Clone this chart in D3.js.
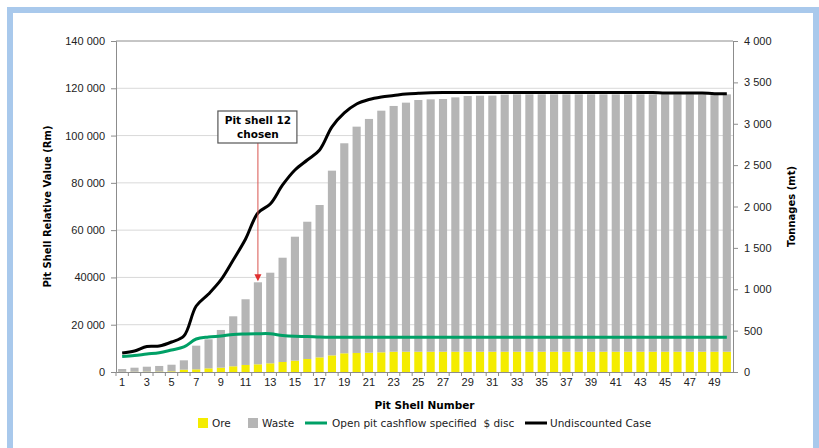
<!DOCTYPE html>
<html>
<head>
<meta charset="utf-8">
<script src="https://cdn.jsdelivr.net/npm/d3@7"></script>
<style>
  body { margin: 0; background: #fff; }
  svg { display: block; font-family: "DejaVu Sans", Verdana, sans-serif; }
</style>
</head>
<body>
<svg id="chart"></svg>
<script>
// pit shells 1..50
const shells = d3.range(1, 51);

// tonnages (mt), right axis
const ore = [2, 3, 4, 5, 8, 28, 32, 44, 52, 69, 85, 93, 105, 121, 137, 157, 177, 201, 226, 230,
  233, 238, 245, 245, 245, 245, 245, 245, 245, 245, 245, 245, 245, 245, 245, 245, 245, 245, 245, 245,
  245, 245, 245, 245, 245, 245, 245, 245, 245, 245];
const total = [36, 52, 64, 73, 88, 141, 318, 395, 508, 673, 879, 1084, 1200, 1381, 1635, 1816, 2018, 2433, 2764, 2965,
  3058, 3158, 3215, 3255, 3287, 3295, 3299, 3319, 3335, 3339, 3340, 3352, 3355, 3355, 3355, 3355, 3355, 3355, 3355, 3355,
  3355, 3355, 3355, 3355, 3355, 3355, 3355, 3355, 3355, 3355];
const waste = total.map((t, i) => t - ore[i]);

// relative value (Rm), left axis
const discounted = [6560, 6980, 7610, 8160, 9310, 10580, 13960, 14810, 15230, 15860, 16070, 16200, 16200, 15440, 15100, 15020, 14810, 14700, 14680, 14680,
  14680, 14680, 14680, 14680, 14680, 14680, 14680, 14680, 14680, 14680, 14680, 14680, 14680, 14680, 14680, 14680, 14680, 14680, 14680, 14680,
  14680, 14680, 14680, 14680, 14680, 14680, 14680, 14680, 14680, 14680];
const undiscounted = [8040, 8880, 10790, 11000, 12690, 15230, 27920, 32990, 38920, 47380, 56260, 67260, 71060, 79100, 85450, 89680, 93910, 103640, 109560, 113360,
  115270, 116330, 116960, 117590, 117890, 118100, 118230, 118230, 118230, 118230, 118230, 118230, 118230, 118230, 118230, 118230, 118230, 118230, 118230, 118230,
  118230, 118230, 118230, 118230, 118020, 118020, 118020, 118020, 117720, 117720];

const leftTicks = [0, 20000, 40000, 60000, 80000, 100000, 120000, 140000];
const leftTickLabels = ["0", "20 000", "40000", "60 000", "80 000", "100 000", "120 000", "140 000"];
const rightTicks = [0, 500, 1000, 1500, 2000, 2500, 3000, 3500, 4000];
const rightTickLabels = ["0", "500", "1 000", "1 500", "2 000", "2 500", "3 000", "3 500", "4 000"];

const chosenShell = 12;

const W = 819, H = 448;
const m = { top: 41, right: 86, bottom: 76, left: 116 };

const svg = d3.select("#chart").attr("width", W).attr("height", H);

// light blue frame
svg.append("rect").attr("x", 10).attr("y", 10).attr("width", W - 13).attr("height", H)
  .attr("fill", "none").attr("stroke", "#a9c9ec").attr("stroke-width", 6);

const x = d3.scaleBand().domain(shells).range([m.left, W - m.right]).paddingInner(0.34).paddingOuter(0.17);
const xb = d3.scaleBand().domain(shells).range([m.left, W - m.right]);
const yL = d3.scaleLinear().domain([0, 140000]).range([H - m.bottom, m.top]);
const yR = d3.scaleLinear().domain([0, 4000]).range([H - m.bottom, m.top]);

// gridlines
svg.append("g").selectAll("line").data(leftTicks.slice(1, -1)).join("line")
  .attr("x1", m.left).attr("x2", W - m.right)
  .attr("y1", d => yL(d)).attr("y2", d => yL(d))
  .attr("stroke", "#d9d9d9").attr("stroke-width", 1);

// stacked bars
const bars = svg.append("g");
bars.selectAll(".ore").data(shells).join("rect").attr("class", "ore")
  .attr("x", d => x(d)).attr("width", x.bandwidth())
  .attr("y", (d, i) => yR(ore[i])).attr("height", (d, i) => yR(0) - yR(ore[i]))
  .attr("fill", "#f4ec00");
bars.selectAll(".waste").data(shells).join("rect").attr("class", "waste")
  .attr("x", d => x(d)).attr("width", x.bandwidth())
  .attr("y", (d, i) => yR(total[i])).attr("height", (d, i) => yR(ore[i]) - yR(total[i]))
  .attr("fill", "#b5b5b5");

// lines
const line = d3.line()
  .x((d, i) => xb(shells[i]) + xb.bandwidth() / 2)
  .y(d => yL(d))
  .curve(d3.curveCatmullRom.alpha(0.5));

svg.append("path").datum(discounted).attr("d", line)
  .attr("fill", "none").attr("stroke", "#00a066").attr("stroke-width", 3);
svg.append("path").datum(undiscounted).attr("d", line)
  .attr("fill", "none").attr("stroke", "#000").attr("stroke-width", 3);

// plot frame
svg.append("line").attr("x1", m.left).attr("x2", W - m.right).attr("y1", m.top).attr("y2", m.top)
  .attr("stroke", "#8c8c8c");

// axes
const axisStyle = g => {
  g.select(".domain").attr("stroke", "#8c8c8c");
  g.selectAll(".tick line").attr("stroke", "#8c8c8c");
  g.selectAll("text").attr("fill", "#222").style("font-size", "11px");
};

svg.append("g").attr("transform", `translate(${m.left},0)`)
  .call(d3.axisLeft(yL).tickValues(leftTicks).tickSizeOuter(0).tickSize(5).tickPadding(6)
    .tickFormat((d, i) => leftTickLabels[i]))
  .call(axisStyle);

svg.append("g").attr("transform", `translate(${W - m.right},0)`)
  .call(d3.axisRight(yR).tickValues(rightTicks).tickSizeOuter(0).tickSize(5).tickPadding(6)
    .tickFormat((d, i) => rightTickLabels[i]))
  .call(axisStyle);

const xAxis = svg.append("g").attr("transform", `translate(0,${H - m.bottom})`)
  .call(d3.axisBottom(xb).tickSize(0).tickPadding(6).tickFormat(d => d % 2 === 1 ? d : ""))
  .call(axisStyle);
// tick marks on category boundaries
xAxis.append("g").selectAll("line").data(shells).join("line")
  .attr("x1", d => xb(d)).attr("x2", d => xb(d)).attr("y1", 0).attr("y2", 4)
  .attr("stroke", "#8c8c8c");

// axis titles
svg.append("text").attr("transform", `translate(51,${(m.top + H - m.bottom) / 2}) rotate(-90)`)
  .attr("text-anchor", "middle").style("font-size", "10px").style("font-weight", "bold")
  .text("Pit Shell Relative Value (Rm)");
svg.append("text").attr("transform", `translate(795,${(m.top + H - m.bottom) / 2}) rotate(-90)`)
  .attr("text-anchor", "middle").style("font-size", "10px").style("font-weight", "bold")
  .text("Tonnages (mt)");
svg.append("text").attr("x", (m.left + W - m.right) / 2).attr("y", 409)
  .attr("text-anchor", "middle").style("font-size", "10.5px").style("font-weight", "bold")
  .text("Pit Shell Number");

// annotation
const ax = xb(chosenShell) + xb.bandwidth() / 2;
const tip = yR(total[chosenShell - 1]) - 1;
const ann = svg.append("g");
ann.append("line").attr("x1", ax).attr("x2", ax).attr("y1", 143).attr("y2", tip - 6)
  .attr("stroke", "#d9534f").attr("stroke-width", 1);
ann.append("path").attr("d", `M${ax - 3.5},${tip - 7}L${ax + 3.5},${tip - 7}L${ax},${tip}Z`)
  .attr("fill", "#e03030");
ann.append("rect").attr("x", ax - 40).attr("y", 111).attr("width", 79).attr("height", 32)
  .attr("fill", "#fff").attr("stroke", "#555").attr("stroke-width", 1.2);
ann.append("text").attr("x", ax).attr("y", 124).attr("text-anchor", "middle")
  .style("font-size", "10.5px").style("font-weight", "bold").text("Pit shell 12");
ann.append("text").attr("x", ax).attr("y", 138).attr("text-anchor", "middle")
  .style("font-size", "10.5px").style("font-weight", "bold").text("chosen");

// legend
const lg = svg.append("g").style("font-size", "10.5px").attr("fill", "#222");
lg.append("rect").attr("x", 198).attr("y", 418).attr("width", 10).attr("height", 10).attr("fill", "#f4ec00");
lg.append("text").attr("x", 212).attr("y", 427).text("Ore");
lg.append("rect").attr("x", 248).attr("y", 418).attr("width", 10).attr("height", 10).attr("fill", "#b5b5b5");
lg.append("text").attr("x", 262).attr("y", 427).text("Waste");
lg.append("line").attr("x1", 305).attr("x2", 327).attr("y1", 423).attr("y2", 423)
  .attr("stroke", "#00a066").attr("stroke-width", 3);
lg.append("text").attr("x", 332).attr("y", 427).text("Open pit cashflow specified  $ disc").attr("xml:space", "preserve");
lg.append("line").attr("x1", 525).attr("x2", 547).attr("y1", 423).attr("y2", 423)
  .attr("stroke", "#000").attr("stroke-width", 3);
lg.append("text").attr("x", 550).attr("y", 427).text("Undiscounted Case");
</script>
</body>
</html>
